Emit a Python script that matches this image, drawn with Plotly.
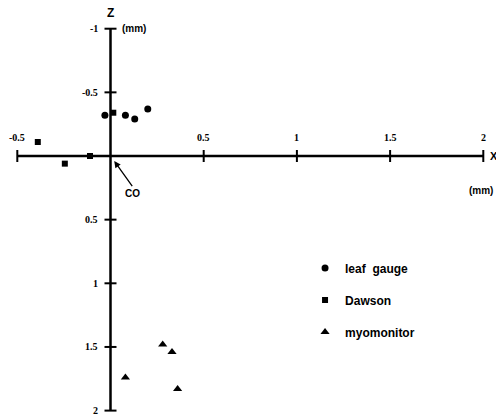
import plotly.graph_objects as go

# ---- data ----
leaf_x = [-0.03, 0.08, 0.13, 0.20]
leaf_z = [-0.32, -0.32, -0.29, -0.37]
dawson_x = [0.015, -0.39, -0.11, -0.245]
dawson_z = [-0.34, -0.11, 0.0, 0.06]
myo_x = [0.28, 0.33, 0.08, 0.36]
myo_z = [1.48, 1.54, 1.74, 1.83]

x_ticks = [-0.5, 0.5, 1, 1.5, 2]
x_tick_labels = ["-0.5", "0.5", "1", "1.5", "2"]
z_ticks = [-1, -0.5, 0.5, 1, 1.5, 2]
z_tick_labels = ["-1", "-0.5", "0.5", "1", "1.5", "2"]

X_MIN, X_MAX = -0.5, 2.0
Z_MIN, Z_MAX = -1.0, 2.0

fig = go.Figure()

mk = dict(color="black")
fig.add_trace(go.Scatter(x=leaf_x, y=leaf_z, mode="markers", name="leaf  gauge",
                         legendgroup="a", marker=dict(symbol="circle", size=7, **mk)))
fig.add_trace(go.Scatter(x=dawson_x, y=dawson_z, mode="markers", name="Dawson",
                         legendgroup="b", marker=dict(symbol="square", size=6, **mk)))
fig.add_trace(go.Scatter(x=myo_x, y=myo_z, mode="markers", name="myomonitor",
                         legendgroup="c", marker=dict(symbol="triangle-up", size=8, **mk)))

shapes = []
# axis lines
shapes.append(dict(type="line", xref="x", yref="y", x0=X_MIN, x1=X_MAX, y0=0, y1=0,
                   line=dict(color="black", width=2.5)))
shapes.append(dict(type="line", xref="x", yref="y", x0=0, x1=0, y0=Z_MIN, y1=Z_MAX,
                   line=dict(color="black", width=2.5)))
# ticks
for t in x_ticks:
    shapes.append(dict(type="line", xref="x", yref="y", ysizemode="pixel", yanchor=0,
                       x0=t, x1=t, y0=-6, y1=6, line=dict(color="black", width=2)))
for t in z_ticks:
    shapes.append(dict(type="line", xref="x", yref="y", xsizemode="pixel", xanchor=0,
                       y0=t, y1=t, x0=-6, x1=6, line=dict(color="black", width=2)))

serif = dict(family="Liberation Serif", size=10, color="black", weight="bold")
sans = dict(family="Liberation Sans", size=10, color="black", weight="bold")
ann = []
for t, lab in zip(x_ticks, x_tick_labels):
    ann.append(dict(x=t, y=0, xref="x", yref="y", text=lab, showarrow=False,
                    yshift=19, font=serif, xanchor="center", yanchor="middle"))
for t, lab in zip(z_ticks, z_tick_labels):
    ann.append(dict(x=0, y=t, xref="x", yref="y", text=lab, showarrow=False,
                    xshift=-11, font=serif, xanchor="right", yanchor="middle"))
ann.append(dict(x=0, y=Z_MIN, xref="x", yref="y", text="Z", showarrow=False, yshift=16,
                font=dict(family="Liberation Sans", size=12, color="black", weight="bold"),
                xanchor="center", yanchor="middle"))
ann.append(dict(x=0, y=Z_MIN, xref="x", yref="y", text="(mm)", showarrow=False, xshift=9,
                font=sans, xanchor="left", yanchor="middle"))
ann.append(dict(x=X_MAX, y=0, xref="x", yref="y", text="X", showarrow=False, xshift=5,
                font=dict(family="Liberation Sans", size=11, color="black", weight="bold"),
                xanchor="left", yanchor="middle"))
ann.append(dict(x=X_MAX, y=0, xref="x", yref="y", text="(mm)", showarrow=False, yshift=-34,
                xshift=-2, font=sans, xanchor="center", yanchor="middle"))
ann.append(dict(x=0.02, y=0.04, xref="x", yref="y", ax=18, ay=25, text="CO",
                showarrow=True, arrowhead=2, arrowsize=1, arrowwidth=1.3, arrowcolor="black",
                font=dict(family="Liberation Sans", size=10, color="black", weight="bold"),
                xanchor="center", yanchor="top"))

W, H = 496, 418
px_per_x = 186.4
px_per_z = 127.3
x0_px, z0_px = 110.5, 156
xr = [-x0_px / px_per_x, (W - x0_px) / px_per_x]
zr = [(H - z0_px) / px_per_z, -z0_px / px_per_z]

fig.update_layout(
    width=W, height=H,
    margin=dict(l=0, r=0, t=0, b=0),
    paper_bgcolor="white", plot_bgcolor="white",
    xaxis=dict(range=xr, visible=False),
    yaxis=dict(range=zr, visible=False),
    shapes=shapes, annotations=ann,
    showlegend=True,
    legend=dict(x=0.615, y=0.3935, xanchor="left", yanchor="top",
                font=dict(family="Liberation Sans", size=12, color="black", weight="bold"),
                traceorder="grouped", tracegroupgap=13, itemwidth=30,
                bgcolor="rgba(0,0,0,0)"),
)

fig.write_html("out.html",
               config={"displayModeBar": False},
               post_script="document.body.style.margin='0';document.body.style.overflow='hidden';")
